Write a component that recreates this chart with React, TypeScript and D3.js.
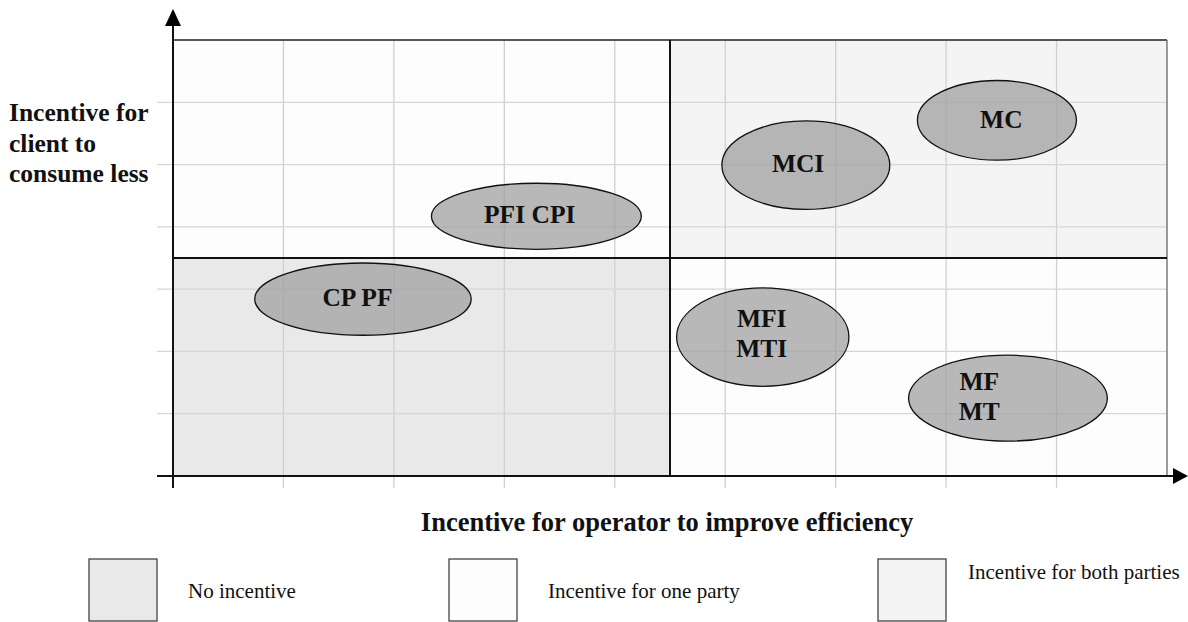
import React, { useEffect, useRef } from 'react'
import * as d3 from 'd3'

// grid: 9 columns, 7 rows; quadrant split at the middle
const xTicks = d3.range(0, 9)
const yTicks = d3.range(0, 7)

const quadrants = [
  { x0: 0, x1: 4.5, y0: 0, y1: 3.5, kind: 'none' },
  { x0: 0, x1: 4.5, y0: 3.5, y1: 7, kind: 'one' },
  { x0: 4.5, x1: 9, y0: 0, y1: 3.5, kind: 'one' },
  { x0: 4.5, x1: 9, y0: 3.5, y1: 7, kind: 'both' },
]

const schemes = ['PFI CPI', 'CP PF', 'MCI', 'MC', 'MFI\nMTI', 'MF\nMT']
const centersX = [3.29, 1.72, 5.73, 7.46, 5.34, 7.56]
const centersY = [4.17, 2.84, 4.99, 5.71, 2.23, 1.25]
const radiiX = [0.95, 0.98, 0.76, 0.72, 0.78, 0.9]
const radiiY = [0.53, 0.58, 0.71, 0.64, 0.79, 0.69]
const labelX = [3.23, 1.67, 5.66, 7.5, 5.33, 7.3]
const labelY = [4.2, 2.86, 5.02, 5.72, 2.29, 1.28]

const legendItems = ['No incentive', 'Incentive for one party', 'Incentive for both parties']
const legendKinds = ['none', 'one', 'both']

const fills = { none: '#e9e9e9', one: '#fdfdfd', both: '#f4f4f4' }

export default function App() {
  const ref = useRef(null)

  useEffect(() => {
    const svg = d3.select(ref.current)
    svg.selectAll('*').remove()
    const font = '"Liberation Serif", "Times New Roman", serif'

    const x = d3.scaleLinear().domain([0, 9]).range([173, 1167])
    const y = d3.scaleLinear().domain([0, 7]).range([476, 40])

    // quadrant backgrounds
    svg.selectAll('rect.q').data(quadrants).enter().append('rect')
      .attr('x', d => x(d.x0)).attr('y', d => y(d.y1))
      .attr('width', d => x(d.x1) - x(d.x0)).attr('height', d => y(d.y0) - y(d.y1))
      .attr('fill', d => fills[d.kind])

    // grid lines + ticks
    svg.selectAll('line.vg').data(xTicks).enter().append('line')
      .attr('x1', d => x(d)).attr('x2', d => x(d))
      .attr('y1', y(7)).attr('y2', y(0) + 12)
      .attr('stroke', '#d0d0d0').attr('stroke-width', 1.3)
    svg.selectAll('line.hg').data(yTicks).enter().append('line')
      .attr('y1', d => y(d)).attr('y2', d => y(d))
      .attr('x1', x(0) - 16).attr('x2', x(9))
      .attr('stroke', '#d6d6d6').attr('stroke-width', 1.3)

    // outer frame
    svg.append('line').attr('x1', x(0)).attr('x2', x(9)).attr('y1', y(7)).attr('y2', y(7))
      .attr('stroke', '#222').attr('stroke-width', 1.5)
    svg.append('line').attr('x1', x(9)).attr('x2', x(9)).attr('y1', y(7)).attr('y2', y(0))
      .attr('stroke', '#666').attr('stroke-width', 1.3)

    // ellipses
    const g = svg.selectAll('g.scheme').data(schemes).enter().append('g')
    g.append('ellipse')
      .attr('cx', (d, i) => x(centersX[i])).attr('cy', (d, i) => y(centersY[i]))
      .attr('rx', (d, i) => x(radiiX[i]) - x(0)).attr('ry', (d, i) => y(0) - y(radiiY[i]))
      .attr('fill', '#a0a0a0').attr('fill-opacity', 0.75)
      .attr('stroke', '#111').attr('stroke-width', 1.3)
    g.each(function (d, i) {
      const lines = d.split('\n')
      const t = d3.select(this).append('text')
        .attr('text-anchor', 'middle')
        .attr('font-family', font).attr('font-weight', 'bold').attr('font-size', 25.5)
        .attr('fill', '#111')
      lines.forEach((l, j) => {
        t.append('tspan')
          .attr('x', x(labelX[i]))
          .attr('y', y(labelY[i]) + 8.5 + (j - (lines.length - 1) / 2) * 30.5)
          .text(l)
      })
    })

    // quadrant dividers
    svg.append('line').attr('x1', x(4.5)).attr('x2', x(4.5)).attr('y1', y(7)).attr('y2', y(0))
      .attr('stroke', '#111').attr('stroke-width', 2)
    svg.append('line').attr('x1', x(0)).attr('x2', x(9)).attr('y1', y(3.5)).attr('y2', y(3.5))
      .attr('stroke', '#111').attr('stroke-width', 2)

    // axes with arrows
    svg.append('line').attr('x1', x(0)).attr('x2', x(0)).attr('y1', y(0) + 12).attr('y2', 22)
      .attr('stroke', '#111').attr('stroke-width', 2)
    svg.append('path').attr('d', `M${x(0) - 8},26 L${x(0)},9 L${x(0) + 8},26 Z`).attr('fill', '#000')
    svg.append('line').attr('x1', x(0) - 16).attr('x2', 1178).attr('y1', y(0)).attr('y2', y(0))
      .attr('stroke', '#111').attr('stroke-width', 2)
    svg.append('path').attr('d', `M1173,${y(0) - 8} L1188,${y(0)} L1173,${y(0) + 8} Z`).attr('fill', '#000')

    // axis titles
    const yt = svg.append('text').attr('font-family', font).attr('font-weight', 'bold')
      .attr('font-size', 25.5).attr('fill', '#111')
    ;['Incentive for', 'client to', 'consume less'].forEach((l, j) => {
      yt.append('tspan').attr('x', 9).attr('y', 121 + j * 30.5).text(l)
    })
    svg.append('text').attr('x', 667).attr('y', 531).attr('text-anchor', 'middle')
      .attr('font-family', font).attr('font-weight', 'bold').attr('font-size', 26.5)
      .attr('fill', '#111').text('Incentive for operator to improve efficiency')

    // legend
    const legendX = [89, 449, 878]
    const lg = svg.selectAll('g.legend').data(legendItems).enter().append('g')
    lg.append('rect')
      .attr('x', (d, i) => legendX[i]).attr('y', 559).attr('width', 68).attr('height', 62)
      .attr('fill', (d, i) => fills[legendKinds[i]]).attr('stroke', '#444').attr('stroke-width', 1.3)
    lg.append('text')
      .attr('x', (d, i) => legendX[i] + (i === 2 ? 90 : 99))
      .attr('y', (d, i) => (i === 2 ? 579 : 598))
      .attr('font-family', font).attr('font-size', 21).attr('fill', '#111')
      .text(d => d)
  }, [])

  return (
    <svg ref={ref} width={1188} height={622}
      style={{ position: 'absolute', left: 0, top: 0, background: '#fff' }} />
  )
}
